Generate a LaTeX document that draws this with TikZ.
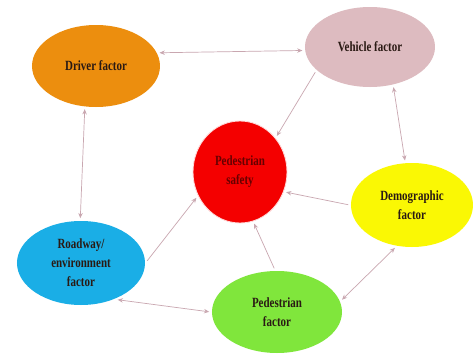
\documentclass[tikz,border=0pt]{standalone}
\usepackage{fontspec}
\setmainfont{Liberation Serif}
\newfontfamily\factorfont[FakeStretch=0.78]{Liberation Serif}
\usepackage{xcolor}
\usepackage{tikz}
\usetikzlibrary{arrows.meta,shapes.geometric}
\definecolor{driverfill}{HTML}{EC8E0E}
\definecolor{vehiclefill}{HTML}{DDBBC0}
\definecolor{safetyfill}{HTML}{F40000}
\definecolor{demofill}{HTML}{FAF804}
\definecolor{roadfill}{HTML}{1AAEE6}
\definecolor{pedfill}{HTML}{80E63C}
\definecolor{linkline}{HTML}{C9A7B0}
\definecolor{labeltext}{HTML}{2A1A14}
\tikzset{
  factor/.style={
    ellipse,
    draw=none,
    inner sep=0pt,
    outer sep=1pt,
    align=center,
    text=labeltext,
    font=\factorfont\fontsize{10}{13.5}\selectfont\bfseries,
    minimum width=3.2cm,
    minimum height=2.05cm
  },
  hub/.style={factor, draw=white!85!red, line width=0.6pt, text=red!40!black, minimum width=2.35cm, minimum height=2.55cm},
  link/.style={line width=0.5pt, draw=linkline, {Stealth[length=1.3mm,width=1.1mm]}-{Stealth[length=1.3mm,width=1.1mm]}, shorten <=1pt, shorten >=1pt},
  feed/.style={line width=0.5pt, draw=linkline, -{Stealth[length=1.3mm,width=1.1mm]}, shorten <=1pt, shorten >=1pt}
}

\begin{document}
\begin{tikzpicture}[x=1cm,y=1cm]
\path[use as bounding box] (0,0) rectangle (11.85,8.85);
\fill[white] (0,0) rectangle (11.85,8.85);

\node[factor, fill=driverfill] (driver) at (2.40,7.20) {Driver factor};
\node[factor, fill=vehiclefill, minimum width=3.25cm, minimum height=2.0cm] (vehicle) at (9.25,7.675) {Vehicle factor};
\node[hub, fill=safetyfill] (safety) at (6.0,4.55) {Pedestrian\\safety};
\node[factor, fill=demofill, minimum width=3.05cm, minimum height=2.1cm] (demo) at (10.3,3.725) {Demographic\\factor};
\node[factor, fill=roadfill, minimum height=2.1cm] (road) at (2.025,2.275) {Roadway/\\environment\\factor};
\node[factor, fill=pedfill, minimum width=3.25cm] (ped) at (6.925,1.05) {Pedestrian\\factor};

\draw[link] (driver.12) -- (vehicle.183);
\draw[link] (driver.255) -- (road.91);
\draw[link] (vehicle.301) -- (demo.99);
\draw[link] (road.314) -- (ped.180);
\draw[link] (ped.10) -- (demo.249);
\draw[feed] (vehicle.204) -- (safety.44);
\draw[feed] (road.1) -- (safety.210);
\draw[feed] (ped.93) -- (safety.285);
\draw[feed] (demo.180) -- (safety.336);

\end{tikzpicture}
\end{document}
